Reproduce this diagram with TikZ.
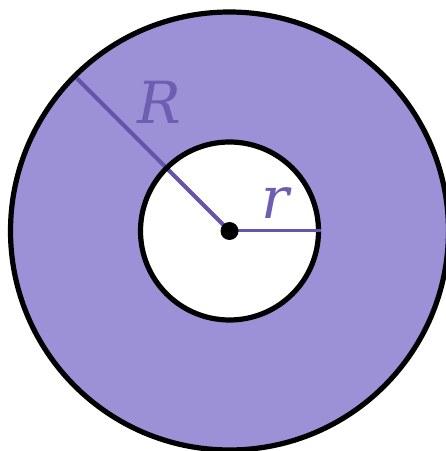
\documentclass[tikz,border=0pt]{standalone}
\usepackage{fontspec}
\setmainfont{DejaVu Serif}
\usepackage{tikz}
\usetikzlibrary{calc, positioning}

\definecolor{ringfill}{HTML}{9C91D6}
\definecolor{radline}{HTML}{6753AA}
\definecolor{radlabel}{HTML}{6E5EB2}

\begin{document}
\begin{tikzpicture}[x=1pt, y=1pt]
    \useasboundingbox (0, 0) rectangle (446, 451);
    \clip (0, 0) rectangle (446, 451);

    \coordinate (O) at (229.5, 220);
    \coordinate (A) at ($(O)+(135:219)$);
    \coordinate (B) at ($(O)+(0:91.5)$);

    % annulus
    \fill[ringfill] (O) circle (219);
    \fill[white] (O) circle (89);

    % radii
    \draw[radline, line width=4] (O) -- (A);

    \draw[line width=5.2] (O) circle (219);
    \draw[line width=5.2] (O) circle (89);
    \draw[radline, line width=3] (O) -- (B);
    \fill (O) circle (9);

    % labels
    \node[radlabel, font=\fontsize{58}{58}\selectfont\itshape] (labR) at (159, 349) {R};
    \node[radlabel, font=\fontsize{58}{58}\selectfont\itshape] (labr) at (275, 248) {r};
\end{tikzpicture}
\end{document}
